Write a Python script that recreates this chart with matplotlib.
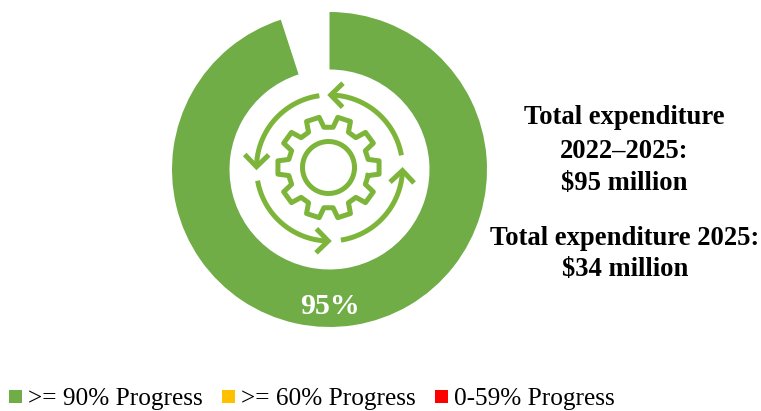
import numpy as np
import matplotlib
matplotlib.use('Agg')
import matplotlib.pyplot as plt

progress = [95, 5]
center_label = '95%'
legend_labels = ['>= 90% Progress', '>= 60% Progress', '0-59% Progress']
legend_colors = ['#70AD47', '#FFC000', '#FF0000']
legend_x = [9, 222, 435]
info_lines = [('Total expenditure', 118), ('2022\u20132025:', 151), ('$95 million', 184)]
info_lines2 = [('Total expenditure 2025:', 238), ('$34 million', 270)]

W, H = 761, 411
GREEN = '#70AD47'
ICON = '#7DB53B'
LW = 5 * 72 / 100

plt.rcParams['font.family'] = ['Liberation Serif', 'DejaVu Serif']
fig = plt.figure(figsize=(W / 100, H / 100), dpi=100)
ax = fig.add_axes([0, 0, 1, 1])


def Y(y):
    return H - y


# donut
cx, cy = 329.5, Y(169.5)
ax.pie(progress, colors=[GREEN, 'none'], radius=157.5, center=(cx, cy),
       startangle=90, counterclock=False,
       wedgeprops=dict(width=57.5, linewidth=0))
ax.set_xlim(0, W)
ax.set_ylim(0, H)
ax.set_aspect('auto')
ax.axis('off')

# gear icon
gx, gy = 328.5, Y(167.5)
t = np.linspace(0, 2 * np.pi, 200)
ax.plot(gx + 26 * np.cos(t), gy + 26 * np.sin(t), color=ICON, lw=LW)

gear_x, gear_y = [], []
for k in range(10):
    a = np.radians(36 * k)
    for da, r in [(-11.5, 40.5), (-7.5, 51), (7.5, 51), (11.5, 40.5)]:
        gear_x.append(gx + r * np.cos(a + np.radians(da)))
        gear_y.append(gy + r * np.sin(a + np.radians(da)))
gear_x.append(gear_x[0])
gear_y.append(gear_y[0])
ax.plot(gear_x, gear_y, color=ICON, lw=LW, solid_joinstyle='round')

# circular arrows: (start angle, end angle)
R = 73
ax_x, ax_y = 329.5, Y(168)
for a0, a1 in [(98, 179), (190, 269), (279, 358), (10, 89)]:
    th = np.radians(np.linspace(a0, a1, 60))
    ax.plot(ax_x + R * np.cos(th), ax_y + R * np.sin(th), color=ICON, lw=LW,
            solid_capstyle='butt')
    # head
    e = np.radians(a1)
    tipx, tipy = ax_x + R * np.cos(e), ax_y + R * np.sin(e)
    d = e + np.pi / 2
    hx, hy = [], []
    for off, ln in [(np.radians(135), 17), (0, 0), (np.radians(-135), 17)]:
        hx.append(tipx + ln * np.cos(d + off))
        hy.append(tipy + ln * np.sin(d + off))
    ax.plot(hx, hy, color=ICON, lw=LW, solid_joinstyle='miter', solid_capstyle='butt')

ax.text(330, Y(306), center_label, color='white', fontsize=21.5, fontweight='bold',
        ha='center', va='center')

for s, y in info_lines:
    ax.text(624.5, Y(y), s, fontsize=19.2, fontweight='bold', ha='center', va='center', color='black')
for s, y in info_lines2:
    ax.text(625, Y(y), s, fontsize=19.2, fontweight='bold', ha='center', va='center', color='black')

# legend
for x, lab, col in zip(legend_x, legend_labels, legend_colors):
    ax.add_patch(plt.Rectangle((x, Y(403)), 13, 13, color=col, lw=0))
    ax.text(x + 19, Y(405), lab, fontsize=18.2, ha='left', va='baseline', color='black')

fig.savefig('out.png', dpi=100)
